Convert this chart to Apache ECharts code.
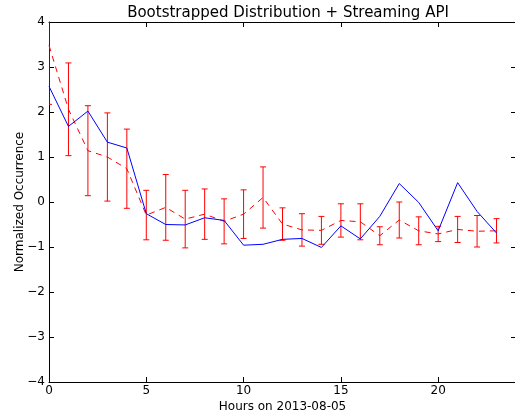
<!DOCTYPE html>
<html><head><meta charset="utf-8">
<script src="https://cdn.jsdelivr.net/npm/echarts@6/dist/echarts.min.js"></script>
<style>html,body{margin:0;padding:0;background:#fff}#c{width:515px;height:416px}</style>
</head><body><div id="c"></div>
<script>
const hours = [0,1,2,3,4,5,6,7,8,9,10,11,12,13,14,15,16,17,18,19,20,21,22,23];
const streaming = [2.57,1.68,2.02,1.33,1.2,-0.26,-0.5,-0.51,-0.35,-0.41,-0.96,-0.94,-0.83,-0.81,-1.01,-0.53,-0.82,-0.32,0.41,-0.01,-0.64,0.43,-0.21,-0.69];
const bootMean = [3.48,2.06,1.14,1.0,0.74,-0.29,-0.12,-0.38,-0.27,-0.43,-0.27,0.1,-0.49,-0.62,-0.63,-0.41,-0.44,-0.75,-0.4,-0.64,-0.71,-0.61,-0.65,-0.64];
const bootErr = [1.31,1.03,1.0,0.98,0.88,0.55,0.73,0.64,0.56,0.5,0.54,0.68,0.36,0.36,0.31,0.37,0.4,0.2,0.4,0.31,0.17,0.29,0.35,0.27];
const xTicks = [0,5,10,15,20];
const yTicks = [-4,-3,-2,-1,0,1,2,3,4];
const titleText = 'Bootstrapped Distribution + Streaming API';
const xName = 'Hours on 2013-08-05';
const yName = 'Normalized Occurrence';

const font = 'DejaVu Sans';
const errData = hours.map((h,i)=>[h, bootMean[i]-bootErr[i], bootMean[i]+bootErr[i]]);
const chart = echarts.init(document.getElementById('c'), null, {renderer:'canvas'});
const axisCommon = {
  type:'value', min:0, max:24,
  axisLine:{show:true, onZero:false, lineStyle:{color:'#000', width:1}},
  axisTick:{show:true, inside:true, length:5, customValues:xTicks, lineStyle:{color:'#000'}},
  splitLine:{show:false}
};
const yCommon = {
  type:'value', min:-4, max:4, interval:1,
  axisLine:{show:true, onZero:false, lineStyle:{color:'#000', width:1}},
  axisTick:{show:true, inside:true, length:5, customValues:yTicks, lineStyle:{color:'#000'}},
  splitLine:{show:false}
};
chart.setOption({
  animation:false,
  title:{text:titleText, left:283, top:1, textAlign:'center',
    textStyle:{fontFamily:font, fontSize:15, fontWeight:'normal', color:'#000'}},
  grid:{left:49, right:-1, top:22, bottom:34, containLabel:false, outerBoundsMode:'none'},
  xAxis:[
    Object.assign({}, axisCommon, {position:'bottom',
      name:xName, nameLocation:'middle', nameGap:19, nameMoveOverlap:false,
      nameTextStyle:{fontFamily:font, fontSize:12, color:'#000'},
      axisLabel:{show:true, customValues:xTicks, fontFamily:font, fontSize:12, color:'#000', margin:3}}),
    Object.assign({}, axisCommon, {position:'top', axisLabel:{show:false}})
  ],
  yAxis:[
    Object.assign({}, yCommon, {position:'left',
      name:yName, nameLocation:'middle', nameGap:23, nameMoveOverlap:false,
      nameTextStyle:{fontFamily:font, fontSize:12, color:'#000'},
      axisLabel:{customValues:yTicks, fontFamily:font, fontSize:12, color:'#000', margin:4,
        formatter:v=>String(v).replace('-','\u2212')}}),
    Object.assign({}, yCommon, {position:'right', axisLabel:{show:false}})
  ],
  series:[
    {type:'custom', clip:true, data:errData, z:2,
     renderItem:(params, api)=>{
       const x=api.value(0), lo=api.value(1), hi=api.value(2);
       const pLo=api.coord([x,lo]), pHi=api.coord([x,hi]);
       const st={stroke:'#ff0000', lineWidth:1};
       return {type:'group', children:[
         {type:'line', shape:{x1:pLo[0],y1:pLo[1],x2:pHi[0],y2:pHi[1]}, style:st},
         {type:'line', shape:{x1:pLo[0]-3,y1:pLo[1],x2:pLo[0]+3,y2:pLo[1]}, style:st},
         {type:'line', shape:{x1:pHi[0]-3,y1:pHi[1],x2:pHi[0]+3,y2:pHi[1]}, style:st}
       ]};
     }},
    {type:'line', data:hours.map((h,i)=>[h,bootMean[i]]), showSymbol:false, z:3,
     lineStyle:{color:'#ff0000', width:1, type:[6,5]}},
    {type:'line', data:hours.map((h,i)=>[h,streaming[i]]), showSymbol:false, z:4,
     lineStyle:{color:'#0000ff', width:1}}
  ]
});
</script></body></html>
